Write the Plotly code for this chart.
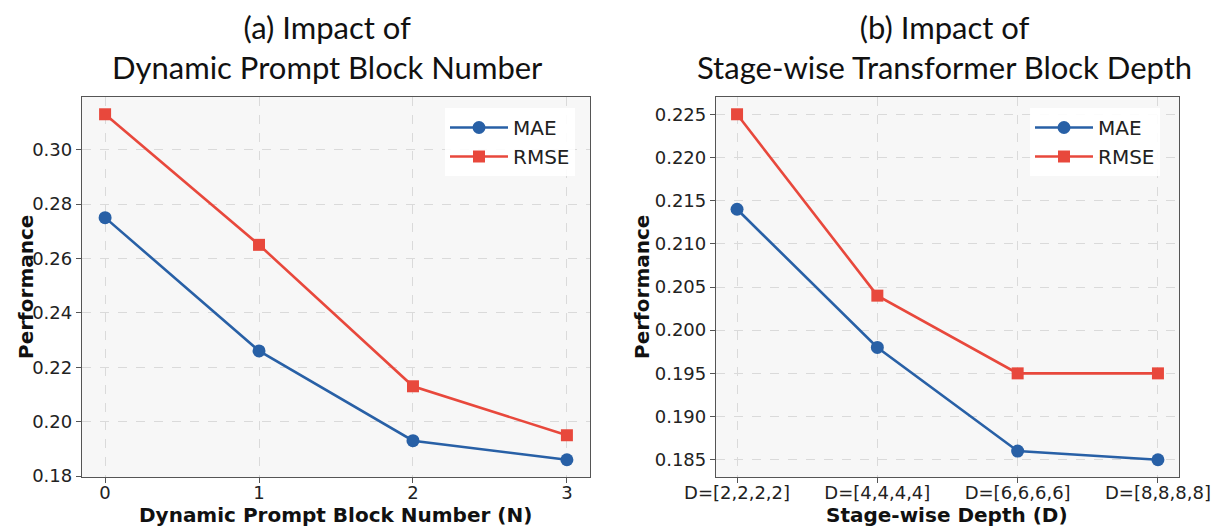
import plotly.graph_objects as go

# Data
n_blocks = [0, 1, 2, 3]
mae_a = [0.275, 0.226, 0.193, 0.186]
rmse_a = [0.313, 0.265, 0.213, 0.195]

depth_labels = ["D=[2,2,2,2]", "D=[4,4,4,4]", "D=[6,6,6,6]", "D=[8,8,8,8]"]
mae_b = [0.214, 0.198, 0.186, 0.185]
rmse_b = [0.225, 0.204, 0.195, 0.195]

yticks_a = [0.18, 0.20, 0.22, 0.24, 0.26, 0.28, 0.30]
yticks_b = [0.185, 0.190, 0.195, 0.200, 0.205, 0.210, 0.215, 0.220, 0.225]

BLUE = "#2860a6"
RED = "#e8483c"
W, H = 1211, 526

fig = go.Figure()

def add_pair(x, mae, rmse, xa, ya, legend):
    fig.add_trace(go.Scatter(x=x, y=mae, name="MAE", mode="lines+markers",
                             line=dict(color=BLUE, width=2.6),
                             marker=dict(symbol="circle", size=13, color=BLUE),
                             xaxis=xa, yaxis=ya, legend=legend))
    fig.add_trace(go.Scatter(x=x, y=rmse, name="RMSE", mode="lines+markers",
                             line=dict(color=RED, width=2.6),
                             marker=dict(symbol="square", size=12, color=RED),
                             xaxis=xa, yaxis=ya, legend=legend))

xidx = list(range(len(depth_labels)))
add_pair(n_blocks, mae_a, rmse_a, "x", "y", "legend")
add_pair(xidx, mae_b, rmse_b, "x2", "y2", "legend2")

def px_x(p):
    return p / W

def px_y(p):
    return 1 - p / H

tickfont = dict(family="DejaVu Sans", size=18, color="#222")
common = dict(showline=True, linecolor="#555", linewidth=1.3, mirror=True,
              ticks="outside", ticklen=5, tickcolor="#555", automargin=False,
              showgrid=True, gridcolor="#dadada", griddash="dash", gridwidth=1,
              zeroline=False, tickfont=tickfont)
xextra = dict(ticklabelstandoff=-6)

ydom = [px_y(477), px_y(97)]
legfont = dict(family="DejaVu Sans", size=20, color="#222")
fig.update_layout(
    width=W, height=H,
    margin=dict(l=0, r=0, t=0, b=0, autoexpand=False),
    paper_bgcolor="white",
    plot_bgcolor="#f7f7f7",
    xaxis=dict(domain=[px_x(82), px_x(590)], range=[-0.15, 3.15],
               tickvals=n_blocks, ticktext=[str(v) for v in n_blocks], anchor="y",
               **common, **xextra),
    yaxis=dict(domain=ydom, range=[0.17965, 0.31935], tickvals=yticks_a,
               ticktext=[f"{v:.2f}" for v in yticks_a], anchor="x", **common),
    xaxis2=dict(domain=[px_x(716), px_x(1179)], range=[-0.15, 3.15],
                tickvals=xidx, ticktext=depth_labels, anchor="y2", **common, **xextra),
    yaxis2=dict(domain=ydom, range=[0.183, 0.227], tickvals=yticks_b,
                ticktext=[f"{v:.3f}" for v in yticks_b], anchor="x2", **common),
    legend=dict(x=px_x(445), y=px_y(108), xanchor="left", yanchor="top",
                bgcolor="rgba(255,255,255,0.9)", borderwidth=0,
                font=legfont, itemwidth=58),
    legend2=dict(x=px_x(1030), y=px_y(108), xanchor="left", yanchor="top",
                 bgcolor="rgba(255,255,255,0.9)", borderwidth=0,
                 font=legfont, itemwidth=58),
)

titlefont = dict(family="Lato", size=31, color="#111")
labfont = dict(family="DejaVu Sans", size=20, color="#111")
ann = [
    dict(text="(a) Impact of<br>Dynamic Prompt Block Number", x=px_x(327), y=px_y(47),
         font=titlefont),
    dict(text="(b) Impact of<br>Stage-wise Transformer Block Depth", x=px_x(944), y=px_y(47),
         font=titlefont),
    dict(text="<b>Dynamic Prompt Block Number (N)</b>", x=px_x(336), y=px_y(515), font=labfont),
    dict(text="<b>Stage-wise Depth (D)</b>", x=px_x(947), y=px_y(515), font=labfont),
    dict(text="<b>Performance</b>", x=px_x(26), y=px_y(287), font=labfont, textangle=-90),
    dict(text="<b>Performance</b>", x=px_x(642), y=px_y(287), font=labfont, textangle=-90),
]
for a in ann:
    fig.add_annotation(xref="paper", yref="paper", xanchor="center", yanchor="middle",
                       showarrow=False, **a)

fig.write_html("out.html")
